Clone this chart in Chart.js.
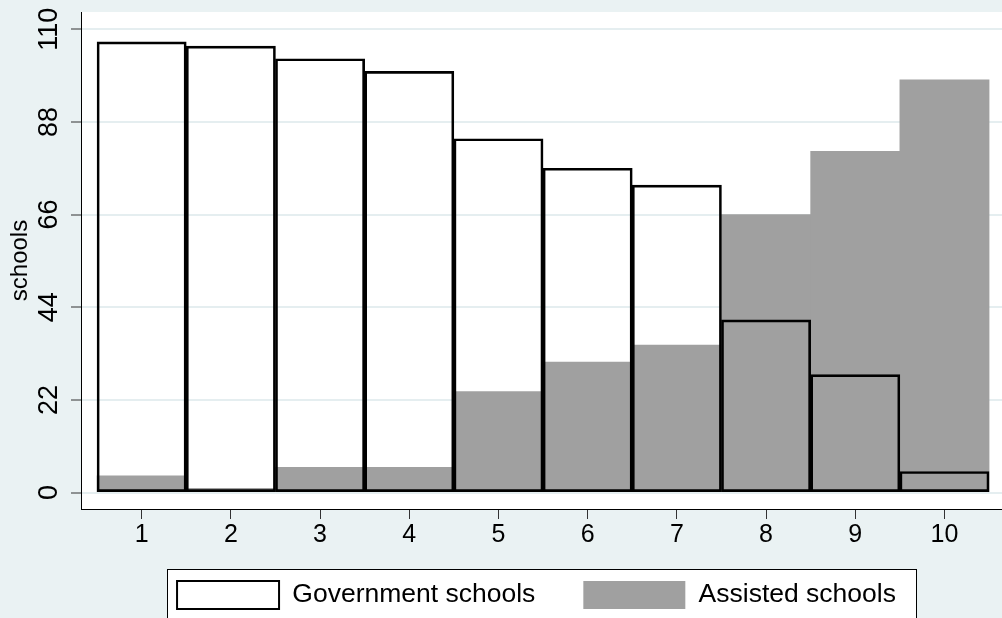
<!DOCTYPE html>
<html>
<head>
<meta charset="utf-8">
<script src="https://cdn.jsdelivr.net/npm/chart.js@4/dist/chart.umd.min.js"></script>
<style>
  html, body { margin: 0; padding: 0; background: #eaf2f3; }
  canvas { display: block; }
</style>
</head>
<body>
<canvas id="chart" width="1002" height="618"></canvas>
<script>
// values
const categories = [1, 2, 3, 4, 5, 6, 7, 8, 9, 10];
const governmentSchools = [107, 106, 103, 100, 84, 77, 73, 41, 28, 5];
const assistedSchools = [4, 1, 6, 6, 24, 31, 35, 66, 81, 98];
const yTickValues = [0, 22, 44, 66, 88, 110];

Chart.defaults.font.family = '"Liberation Sans", Arial, sans-serif';
Chart.defaults.color = '#000';

// page background, white plot region and the framed legend
const stataFrame = {
    id: 'stataFrame',
    afterLayout(chart) {
        // pull the legend up under the axis labels and a bit to the left
        const lg = chart.legend;
        if (!lg) return;
        lg.top = chart.chartArea.bottom + 24;
        lg.height = 120;
        lg.bottom = lg.top + lg.height;
        lg.left -= 5;
        lg.right -= 5;
    },
    beforeDraw(chart) {
        const { ctx, chartArea } = chart;
        ctx.save();
        ctx.fillStyle = '#eaf2f3';
        ctx.fillRect(0, 0, chart.width, chart.height);
        ctx.fillStyle = '#fff';
        ctx.fillRect(chartArea.left, chartArea.top, chartArea.right - chartArea.left, chartArea.bottom - chartArea.top);

        const hb = chart.legend && chart.legend.legendHitBoxes;
        if (hb && hb.length) {
            const last = hb[hb.length - 1];
            const left = Math.round(hb[0].left - 10) + 0.5;
            const right = Math.round(last.left + last.width + 20) + 0.5;
            const top = Math.round(hb[0].top - 12) + 0.5;
            ctx.fillStyle = '#fff';
            ctx.fillRect(left, top, right - left, chart.height + 20 - top);
            ctx.strokeStyle = '#000';
            ctx.lineWidth = 1;
            ctx.strokeRect(left, top, right - left, chart.height + 20 - top);
        }
        ctx.restore();
    }
};

const ctx = document.getElementById('chart').getContext('2d');
new Chart(ctx, {
    type: 'bar',
    data: {
        datasets: [{
            label: 'Government schools',
            data: categories.map((c, i) => ({ x: c, y: governmentSchools[i] })),
            backgroundColor: 'rgba(255,255,255,0)',
            borderColor: '#000',
            borderWidth: 2,
            borderSkipped: false,
            barPercentage: 1,
            categoryPercentage: 1
        }, {
            label: 'Assisted schools',
            data: categories.map((c, i) => ({ x: c, y: assistedSchools[i] })),
            backgroundColor: '#a0a0a0',
            borderWidth: 0,
            barPercentage: 1,
            categoryPercentage: 1
        }]
    },
    options: {
        responsive: false,
        devicePixelRatio: 1,
        animation: false,
        layout: { padding: { top: 12, left: 0, right: 0, bottom: 0 } },
        datasets: { bar: { grouped: false } },
        scales: {
            x: {
                type: 'linear',
                min: 0.32,
                max: 10.645,
                offset: false,
                afterBuildTicks: s => { s.ticks = categories.map(v => ({ value: v })); },
                afterFit: s => { s.height = 60; s.paddingLeft = 0; s.paddingRight = 0; },
                border: { color: '#000', width: 1 },
                grid: { drawOnChartArea: false, offset: false, tickLength: 10, tickColor: '#333', tickWidth: 1 },
                ticks: { color: '#000', font: { size: 25 }, padding: 1, maxRotation: 0, autoSkip: false }
            },
            y: {
                min: -3.9,
                max: 114.1,
                afterBuildTicks: s => { s.ticks = yTickValues.map(v => ({ value: v })); },
                afterFit: s => { s.width = 81; s.paddingTop = 0; s.paddingBottom = 0; },
                border: { color: '#000', width: 1 },
                grid: { color: '#e5eef0', lineWidth: 2, tickLength: 10, tickColor: '#333', tickWidth: 1 },
                ticks: {
                    color: '#000',
                    font: { size: 27 },
                    minRotation: 90,
                    maxRotation: 90,
                    crossAlign: 'center',
                    padding: 0,
                    autoSkip: false
                },
                title: {
                    display: true,
                    text: 'schools',
                    color: '#000',
                    font: { size: 24 },
                    padding: { top: 6, bottom: 0 }
                }
            }
        },
        plugins: {
            legend: {
                position: 'bottom',
                fullSize: false,
                maxHeight: 49,
                labels: { boxWidth: 102, boxHeight: 28, padding: 48, color: '#000', font: { size: 26.5 } }
            },
            tooltip: { enabled: false }
        }
    },
    plugins: [stataFrame]
});
</script>
</body>
</html>
